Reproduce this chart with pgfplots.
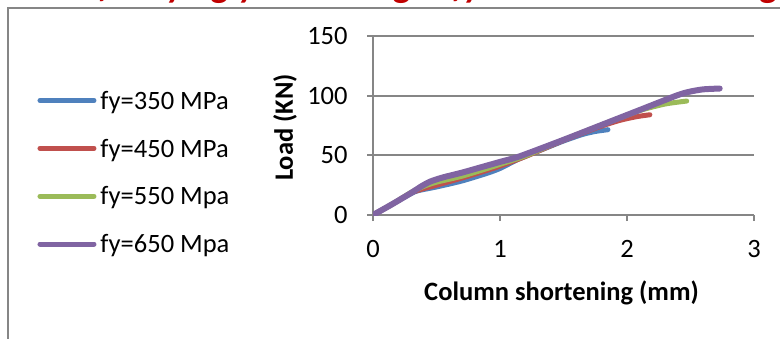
\documentclass[border=0pt]{standalone}
\usepackage{fontspec}
\setmainfont{Carlito}
\usepackage{pgfplots}
\pgfplotsset{compat=1.18}
\definecolor{s1}{HTML}{4F81BD}
\definecolor{s2}{HTML}{C0504D}
\definecolor{s3}{HTML}{9BBB59}
\definecolor{s4}{HTML}{8064A2}
\definecolor{gridc}{HTML}{868686}
\definecolor{titlered}{HTML}{C00000}
\begin{document}
\fontsize{13.25pt}{15pt}\selectfont
\begin{tikzpicture}
\begin{scope}
\clip (0pt,0pt) rectangle (390pt,-169pt);
\node[anchor=base, inner sep=0pt, text=titlered, font=\fontsize{18pt}{20pt}\selectfont\bfseries\itshape] at (227.5pt,1.5pt) {Effect of varying yield strength fy on load--shortening response};
\end{scope}
\draw[gridc, line width=1pt] (4pt,-171pt) -- (4pt,-4pt) -- (392pt,-4pt);
\begin{axis}[
  scale only axis, width=190.5pt, height=89.5pt,
  at={(186.5pt,-107.5pt)}, anchor=south west,
  xmin=0, xmax=3, ymin=0, ymax=150,
  xtick={0,1,2,3}, ytick={0,50,100,150},
  /pgf/number format/assume math mode=true,
  axis x line*=bottom, axis y line*=left,
  axis line style={gridc, line width=1pt},
  ymajorgrids, major grid style={gridc, line width=1pt},
  tick align=outside, major tick length=3pt,
  tick style={gridc, line width=1pt},
  xticklabel style={anchor=base, inner sep=0pt, yshift=-18pt},
  yticklabel style={anchor=east, inner sep=0pt, xshift=-9.5pt},
  xlabel={\bfseries Column shortening (mm)},
  ylabel={\bfseries Load (KN)},
  xlabel style={at={(axis description cs:0.4948,-0.4749)}, anchor=base, inner sep=0pt},
  ylabel style={at={(axis description cs:-0.21,0.4888)}, anchor=base, inner sep=0pt},
  legend style={at={(-0.8806,0.2232)}, anchor=west, draw=none, fill=none,
    inner sep=0pt, outer sep=0pt, row sep=11.92pt, column sep=2pt,
    nodes={inner sep=0pt, text height=9pt, text depth=3pt}},
  legend cell align=left,
  legend image code/.code={\draw[#1, line width=2.5pt, line cap=round] (0pt,1.4pt) -- (27pt,1.4pt);},
  every axis plot/.append style={line cap=round, line join=round, smooth, tension=0.4},
]
\addplot[color=s1, line width=2.5pt] coordinates {(0,0) (0.15,9) (0.3,18) (0.36,20.5) (0.5,23.5) (0.7,28.5) (0.9,35) (1.0,39) (1.15,47) (1.3,53.5) (1.5,62) (1.65,67.5) (1.75,70) (1.85,71.5)};
\addlegendentry{fy=350 MPa}
\addplot[color=s2, line width=2.5pt] coordinates {(0,0) (0.15,9) (0.3,18.5) (0.38,21.5) (0.5,25) (0.7,31) (0.9,37.5) (1.0,41) (1.2,49) (1.5,62.5) (1.8,74.5) (1.95,79.5) (2.08,82.5) (2.18,84)};
\addlegendentry{fy=450 MPa}
\addplot[color=s3, line width=2.5pt] coordinates {(0,0) (0.15,9) (0.3,19) (0.4,24) (0.5,27.5) (0.7,32.5) (0.9,39) (1.0,42.5) (1.2,49.5) (1.5,63) (1.8,75.5) (2.1,87.5) (2.3,93) (2.47,95.5)};
\addlegendentry{fy=550 Mpa}
\addplot[color=s4, line width=3pt] coordinates {(0,0) (0.15,9) (0.3,18.5) (0.38,24) (0.45,28) (0.55,31.5) (0.7,35.5) (0.85,40) (1.0,44.5) (1.15,49) (1.5,63) (1.8,75.5) (2.1,88) (2.4,100.5) (2.5,103.5) (2.6,105.3) (2.73,106)};
\addlegendentry{fy=650 Mpa}
\end{axis}
\pgfresetboundingbox
\path[use as bounding box] (0pt,0pt) rectangle (390pt,-169pt);
\end{tikzpicture}
\end{document}
